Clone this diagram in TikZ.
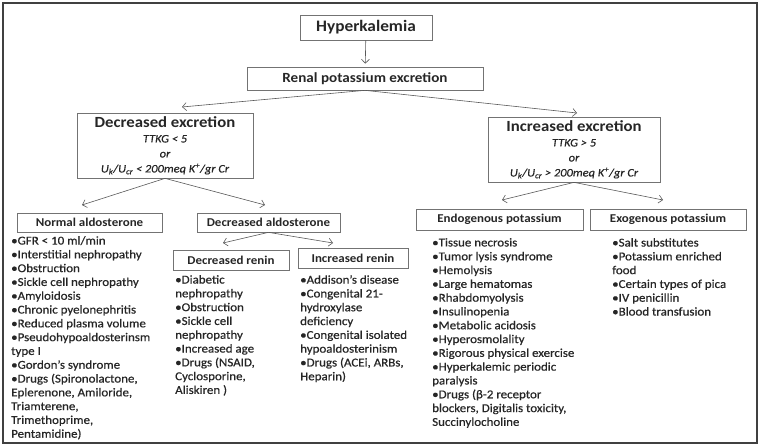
\documentclass[tikz,border=0pt]{standalone}
\usepackage{fontspec}
\setmainfont{Carlito}[FakeStretch=1.08, UprightFeatures={FakeBold=0.6}, ItalicFeatures={FakeBold=0.4}]
\usetikzlibrary{positioning, calc, arrows.meta}

\tikzset{
  box/.style={draw=black!55, line width=0.7pt, inner sep=0pt, text=black!85},
  lst/.style={anchor=north west, inner sep=0pt, align=left, text=black!85,
    font=\fontsize{12}{13.8}\selectfont},
  arr/.style={-{Straight Barb[length=4pt, width=8pt, line width=0.6pt]}, black!65, line width=0.6pt},
}

\begin{document}
\begin{tikzpicture}[x=1pt, y=-1pt]
        \useasboundingbox (0,0) rectangle (763,447);
        \draw[line width=1.6pt, black!75] (3,3) rectangle (757,443);
%
        \node[box, minimum width=132pt, minimum height=25pt, font=\bfseries\fontsize{16}{18}\selectfont] (hyper) at (366,27.5) {Hyperkalemia};
        \node[box, minimum width=236pt, minimum height=23pt, font=\bfseries\fontsize{14}{16}\selectfont] (renal) at (365,78.5) {Renal potassium excretion};
%
        \node[box, minimum width=176pt, minimum height=65pt, align=center, font=\fontsize{11.5}{15}\selectfont] (decexc) at (165,145.5)
          {{\bfseries\fontsize{15.5}{17}\selectfont Decreased excretion}\\ \itshape TTKG < 5\\ \itshape or\\ \itshape U\textsubscript{k}/U\textsubscript{cr} < 200meq K\textsuperscript{+}/gr Cr};
        \node[box, minimum width=172pt, minimum height=65pt, align=center, font=\fontsize{11.5}{15}\selectfont] (incexc) at (574,149.5)
          {{\bfseries\fontsize{15.5}{17}\selectfont Increased excretion}\\ \itshape TTKG > 5\\ \itshape or\\ \itshape U\textsubscript{k}/U\textsubscript{cr} > 200meq K\textsuperscript{+}/gr Cr};
%
        \node[box, minimum width=145pt, minimum height=19pt, font=\bfseries\fontsize{12}{14}\selectfont] (normald) at (89.5,222.5) {Normal aldosterone};
        \node[box, minimum width=143pt, minimum height=19pt, font=\bfseries\fontsize{12}{14}\selectfont] (decald) at (268.5,222.5) {Decreased aldosterone};
        \node[box, minimum width=116pt, minimum height=20pt, font=\bfseries\fontsize{12}{14}\selectfont] (decren) at (231,260) {Decreased renin};
        \node[box, minimum width=110pt, minimum height=20pt, font=\bfseries\fontsize{12}{14}\selectfont] (incren) at (353,258.5) {Increased renin};
        \node[box, minimum width=167pt, minimum height=21pt, font=\bfseries\fontsize{12}{14}\selectfont] (endo) at (499.5,219.5) {Endogenous potassium};
        \node[box, minimum width=156pt, minimum height=21pt, font=\bfseries\fontsize{12}{14}\selectfont] (exo) at (668,219.5) {Exogenous potassium};
%
        \node[lst] (normlist) at (11,236) {•GFR < 10 ml/min\\ •Interstitial nephropathy\\ •Obstruction\\ •Sickle cell nephropathy\\ •Amyloidosis\\ •Chronic pyelonephritis\\ •Reduced plasma volume\\ •Pseudohypoaldosterinsm\\ type I\\ •Gordon’s syndrome\\ •Drugs (Spironolactone,\\ Eplerenone, Amiloride,\\ Triamterene,\\ Trimethoprime,\\ Pentamidine)};
        \node[lst] (drlist) at (175,275) {•Diabetic\\ nephropathy\\ •Obstruction\\ •Sickle cell\\ nephropathy\\ •Increased age\\ •Drugs (NSAID,\\ Cyclosporine,\\ Aliskiren )};
        \node[lst] (irlist) at (300,275) {•Addison’s disease\\ •Congenital 21-\\ hydroxylase\\ deficiency\\ •Congenital isolated\\ hypoaldosterinism\\ •Drugs (ACEi, ARBs,\\ Heparin)};
        \node[lst] (endolist) at (432,238) {•Tissue necrosis\\ •Tumor lysis syndrome\\ •Hemolysis\\ •Large hematomas\\ •Rhabdomyolysis\\ •Insulinopenia\\ •Metabolic acidosis\\ •Hyperosmolality\\ •Rigorous physical exercise\\ •Hyperkalemic periodic\\ paralysis\\ •Drugs (β-2 receptor\\ blockers, Digitalis toxicity,\\ Succinylocholine};
        \node[lst] (exolist) at (612,238) {•Salt substitutes\\ •Potassium enriched\\ food\\ •Certain types of pica\\ •IV penicillin\\ •Blood transfusion};
%
        \coordinate (tde) at (182,107);
        \coordinate (tie) at (577,113);
        \coordinate (tna) at (82,205);
        \coordinate (tda) at (265,205);
        \coordinate (tdr) at (223,243);
        \coordinate (tir) at (333,243);
        \coordinate (ten) at (502,200);
        \coordinate (tex) at (663,200);
%
        \draw[arr, shorten >=3pt] (hyper) -- (renal);
        \draw[arr] (renal.south) -- (tde);
        \draw[arr] (renal.south) -- (tie);
        \draw[arr] (decexc.south) -- (tna);
        \draw[arr] (decexc.south) -- (tda);
        \draw[arr] (decald.south) -- (tdr);
        \draw[arr] (decald.south) -- (tir);
        \draw[arr] (incexc.south) -- (ten);
        \draw[arr] (incexc.south) -- (tex);
\end{tikzpicture}
\end{document}
